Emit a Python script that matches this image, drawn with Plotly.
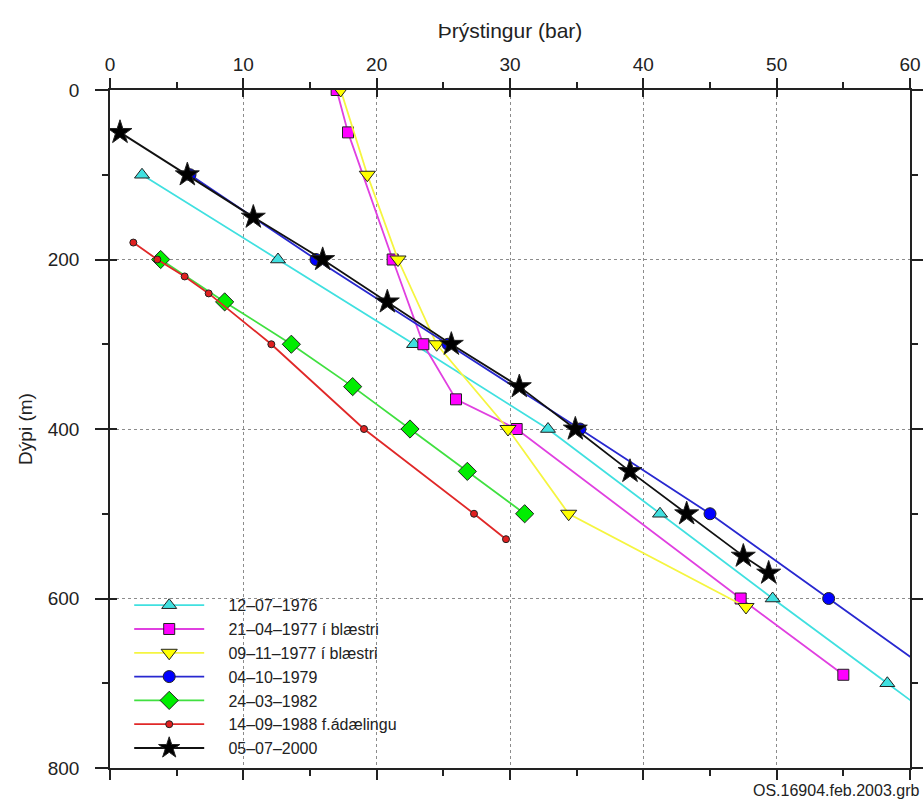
import plotly.graph_objects as go

# ---- data (pressure in bar, depth in m) ----
d1976 = [100, 200, 300, 400, 500, 600, 700, 800]
p1976 = [2.4, 12.6, 22.8, 32.85, 41.25, 49.7, 58.3, 66.9]

d1977a = [0, 50, 200, 300, 365, 400, 600, 690]
p1977a = [17.0, 17.85, 21.2, 23.5, 25.95, 30.5, 47.3, 55.0]

d1977b = [0, 100, 200, 300, 400, 500, 610]
p1977b = [17.3, 19.3, 21.6, 24.5, 29.85, 34.4, 47.7]

d1979 = [100, 200, 300, 400, 500, 600, 700]
p1979 = [6.0, 15.45, 25.35, 35.25, 45.0, 53.9, 62.8]

d1982 = [200, 250, 300, 350, 400, 450, 500]
p1982 = [3.8, 8.6, 13.6, 18.2, 22.5, 26.8, 31.1]

d1988 = [180, 200, 220, 240, 300, 400, 500, 530]
p1988 = [1.75, 3.55, 5.6, 7.4, 12.1, 19.05, 27.3, 29.7]

d2000 = [50, 100, 150, 200, 250, 300, 350, 400, 450, 500, 550, 570]
p2000 = [0.75, 5.8, 10.75, 15.95, 20.8, 25.6, 30.7, 34.9, 39.0, 43.25, 47.5, 49.4]

x_ticks = [0, 10, 20, 30, 40, 50, 60]
y_ticks = [0, 200, 400, 600, 800]

names = [
    "12\u201307\u20131976",
    "21\u201304\u20131977 \u00ed bl\u00e6stri",
    "09\u201311\u20131977 \u00ed bl\u00e6stri",
    "04\u201310\u20131979",
    "24\u201303\u20131982",
    "14\u201309\u20131988 f.\u00e1d\u00e6lingu",
    "05\u201307\u20132000",
]

FONT = "Liberation Sans, Arial, Helvetica, sans-serif"
GAP = "\u2003\u2009"  # visual gap between legend line and text

styles = [
    ("#40E0E0", "#40E0E0", "triangle-up", 13),
    ("#E040E0", "#FF00FF", "square", 11),
    ("#F5F540", "#FFFF00", "triangle-down", 14),
    ("#2828D0", "#0000FF", "circle", 12),
    ("#40E040", "#00EE00", "diamond", 14),
    ("#E02828", "#E02020", "circle", 7),
    ("#111111", "#000000", "star", 18),
]
xs = [p1976, p1977a, p1977b, p1979, p1982, p1988, p2000]
ys = [d1976, d1977a, d1977b, d1979, d1982, d1988, d2000]

fig = go.Figure()
for name, px, dy, (lc, mc, sym, sz) in zip(names, xs, ys, styles):
    fig.add_trace(go.Scatter(
        x=px, y=dy, name=GAP + name, mode="lines+markers",
        line=dict(color=lc, width=1.8),
        marker=dict(symbol=sym, size=sz, color=mc,
                    line=dict(color="#222222", width=1)),
    ))

# invisible trace for overlay axes (inner half of major ticks)
fig.add_trace(go.Scatter(x=[0], y=[0], xaxis="x2", yaxis="y2",
                         mode="markers", marker=dict(opacity=0),
                         showlegend=False, hoverinfo="skip"))

axis_common = dict(
    showline=True, linecolor="#222222", linewidth=1.5,
    mirror="allticks", ticks="outside", tickwidth=1.5,
    tickcolor="#222222", automargin=False,
    showgrid=True, gridcolor="#8c8c8c", griddash="dot", gridwidth=1,
    zeroline=False,
    tickfont=dict(family=FONT, size=19, color="#222222"),
)

fig.update_layout(
    width=923, height=801,
    margin=dict(l=110, r=13, t=90, b=33),
    paper_bgcolor="white", plot_bgcolor="white",
    font=dict(family=FONT, color="#222222"),
    xaxis=dict(
        **axis_common, side="top", range=[0, 60], ticklen=10,
        tickvals=x_ticks, ticktext=[str(v) for v in x_ticks],
        minor=dict(dtick=5, tick0=0, ticks="outside", ticklen=6,
                   tickcolor="#222222", showgrid=False),
        title=dict(text="\u00der\u00fdstingur (bar)",
                   font=dict(family=FONT, size=21, color="#222222"), standoff=9),
        ticklabelstandoff=0,
    ),
    yaxis=dict(
        **axis_common, range=[800, 0], ticklen=13,
        tickvals=y_ticks, ticktext=[str(v) for v in y_ticks],
        minor=dict(dtick=100, tick0=0, ticks="outside", ticklen=6,
                   tickcolor="#222222", showgrid=False),
        title=dict(text="D\u00fdpi (m)",
                   font=dict(family=FONT, size=19, color="#222222"), standoff=10),
        ticklabelstandoff=12,
    ),
    xaxis2=dict(overlaying="x", matches="x", side="top", showline=False,
                showgrid=False, zeroline=False, ticks="inside", ticklen=7,
                tickwidth=1.5, tickcolor="#222222", showticklabels=False,
                tickvals=x_ticks, automargin=False),
    yaxis2=dict(overlaying="y", matches="y", side="left", showline=False,
                showgrid=False, zeroline=False, ticks="inside", ticklen=7,
                tickwidth=1.5, tickcolor="#222222", showticklabels=False,
                tickvals=y_ticks, automargin=False),
    legend=dict(
        x=0.024, y=0.004, xanchor="left", yanchor="bottom",
        bgcolor="rgba(255,255,255,0)", borderwidth=0,
        font=dict(family=FONT, size=16, color="#222222"),
        itemwidth=70, tracegroupgap=0,
    ),
    annotations=[dict(
        text="OS.16904.feb.2003.grb", xref="paper", yref="paper",
        x=1.014, y=-0.033, xanchor="right", yanchor="middle",
        showarrow=False, font=dict(family=FONT, size=16, color="#222222"),
    )],
    showlegend=True,
)

fig.write_html("out.html")
